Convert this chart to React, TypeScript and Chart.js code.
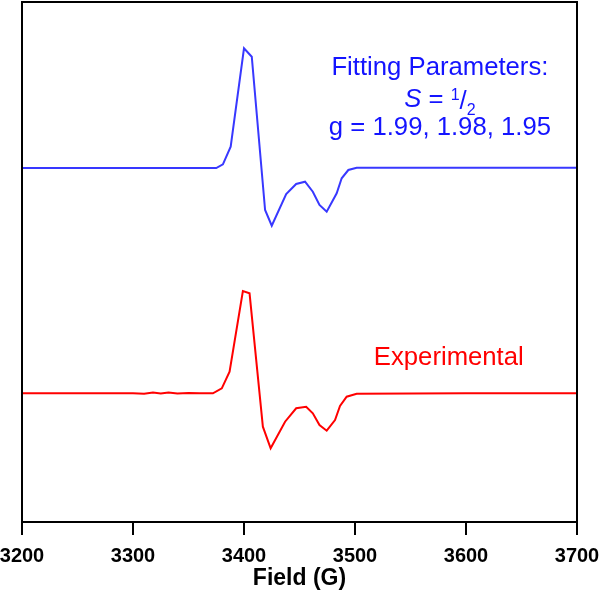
import React, { useEffect, useRef } from 'react';
import { Chart, registerables } from 'chart.js';

Chart.register(...registerables);

// X axis (Field, G)
const fieldMin = 3200;
const fieldMax = 3700;
const fieldStep = 100;
const axisTitle = 'Field (G)';

// Simulated (fit) spectrum, vertically offset (upper trace)
const fitField = [3200, 3300, 3375, 3381, 3388, 3400, 3407, 3419, 3425, 3438, 3447, 3455, 3462, 3468, 3474.5, 3483.5, 3488, 3494, 3501.5, 3600, 3700];
const fitSignal = [354, 354, 354, 357.7, 375.3, 473.7, 465.3, 312, 296.3, 328, 338, 340.3, 330.3, 317, 310.3, 328.7, 343.7, 352, 354.3, 354.3, 354.3];

// Experimental spectrum (lower trace)
const expField = [3200, 3250, 3300, 3310, 3318, 3325, 3332, 3340, 3350, 3360, 3372, 3380, 3387, 3399, 3405, 3417, 3424, 3437, 3447, 3456, 3462, 3468, 3474.5, 3482, 3486.5, 3492.5, 3501.5, 3600, 3700];
const expSignal = [128.7, 128.7, 128.7, 128.2, 129.4, 128.5, 129.5, 128.6, 128.9, 128.7, 128.7, 133.7, 150.3, 231, 228.7, 95.3, 73.7, 100.3, 113.7, 115.3, 108.7, 97, 91.3, 102, 116, 125.3, 128.3, 128.7, 128.7];

const fitTitle = 'Fitting Parameters:';
const spinLabel = ['S', ' = ', '1', '/', '2'];
const gLabel = 'g = 1.99, 1.98, 1.95';
const expLabel = 'Experimental';

const BLUE_LINE = '#3838ff';
const BLUE_TEXT = '#1414ff';
const RED = '#ff0000';
const FONT = '"Liberation Sans", Arial, sans-serif';
const ANN = 25.7;

const framePlugin = {
  id: 'frame',
  afterDraw(chart: any) {
    const { ctx, chartArea } = chart;
    const { left, top, right, bottom } = chartArea;
    ctx.save();
    ctx.strokeStyle = '#000';
    ctx.lineWidth = 2;
    ctx.strokeRect(left, top, right - left, bottom - top);

    // annotations
    ctx.textAlign = 'left';
    ctx.textBaseline = 'alphabetic';
    const cx = left + (right - left) * 0.753;
    ctx.fillStyle = BLUE_TEXT;
    ctx.font = `${ANN}px ${FONT}`;
    let w = ctx.measureText(fitTitle).width;
    ctx.fillText(fitTitle, cx - w / 2, top + 73);

    // S = 1/2
    const big = `${ANN}px ${FONT}`;
    const it = `italic ${ANN}px ${FONT}`;
    const small = `16px ${FONT}`;
    ctx.font = it; const wS = ctx.measureText(spinLabel[0]).width;
    ctx.font = big; const wEq = ctx.measureText(spinLabel[1]).width;
    ctx.font = small; const w1 = ctx.measureText(spinLabel[2]).width;
    ctx.font = big; const wSl = ctx.measureText(spinLabel[3]).width;
    ctx.font = small; const w2 = ctx.measureText(spinLabel[4]).width;
    const total = wS + wEq + w1 + wSl + w2;
    let x = cx - total / 2;
    const base2 = top + 105;
    ctx.font = it; ctx.fillText(spinLabel[0], x, base2); x += wS;
    ctx.font = big; ctx.fillText(spinLabel[1], x, base2); x += wEq;
    ctx.font = small; ctx.fillText(spinLabel[2], x, base2 - 7); x += w1;
    ctx.font = big; ctx.fillText(spinLabel[3], x, base2 + 2); x += wSl;
    ctx.font = small; ctx.fillText(spinLabel[4], x, base2 + 8);

    ctx.font = `${ANN}px ${FONT}`;
    w = ctx.measureText(gLabel).width;
    ctx.fillText(gLabel, cx - w / 2, top + 133);

    ctx.fillStyle = RED;
    ctx.font = `${ANN}px ${FONT}`;
    w = ctx.measureText(expLabel).width;
    ctx.fillText(expLabel, left + (right - left) * 0.769 - w / 2, top + 363);
    ctx.restore();
  },
};

export default function App() {
  const ref = useRef<HTMLCanvasElement>(null);
  useEffect(() => {
    const canvas = ref.current;
    if (!canvas) return;
    const chart = new Chart(canvas, {
      type: 'line',
      data: {
        datasets: [
          {
            label: 'Fit',
            data: fitField.map((f, i) => ({ x: f, y: fitSignal[i] })),
            borderColor: BLUE_LINE,
            borderWidth: 2,
            pointRadius: 0,
            tension: 0,
            fill: false,
          },
          {
            label: 'Experimental',
            data: expField.map((f, i) => ({ x: f, y: expSignal[i] })),
            borderColor: RED,
            borderWidth: 2,
            pointRadius: 0,
            tension: 0,
            fill: false,
          },
        ],
      },
      options: {
        responsive: false,
        animation: false,
        devicePixelRatio: 1,
        layout: { padding: { left: 22, right: 23, top: 2, bottom: 0 } },
        plugins: {
          legend: { display: false },
          tooltip: { enabled: false },
          title: { display: false },
        },
        scales: {
          x: {
            type: 'linear',
            min: fieldMin,
            max: fieldMax,
            afterFit: (axis: any) => {
              axis.height = 70;
              axis.paddingLeft = 0;
              axis.paddingRight = 0;
            },
            ticks: {
              stepSize: fieldStep,
              color: '#000',
              font: { family: FONT, size: 20, weight: 'bold' },
              padding: 9,
              maxRotation: 0,
              autoSkip: false,
              callback: (v: any) => String(v),
            },
            grid: {
              display: true,
              drawOnChartArea: false,
              drawTicks: true,
              tickLength: 13,
              color: '#000',
              lineWidth: 2,
            },
            border: { display: true, color: '#000', width: 2 },
            title: {
              display: true,
              text: axisTitle,
              color: '#000',
              font: { family: FONT, size: 23, weight: 'bold' },
              padding: { top: 0, bottom: 0 },
            },
          },
          y: {
            type: 'linear',
            display: false,
            min: 0,
            max: 520,
          },
        },
      },
      plugins: [framePlugin],
    });
    return () => chart.destroy();
  }, []);
  return (
    <div style={{ position: 'absolute', left: 0, top: 0, width: 600, height: 592, background: '#fff' }}>
      <canvas ref={ref} width={600} height={592} style={{ display: 'block', width: 600, height: 592 }} />
    </div>
  );
}
